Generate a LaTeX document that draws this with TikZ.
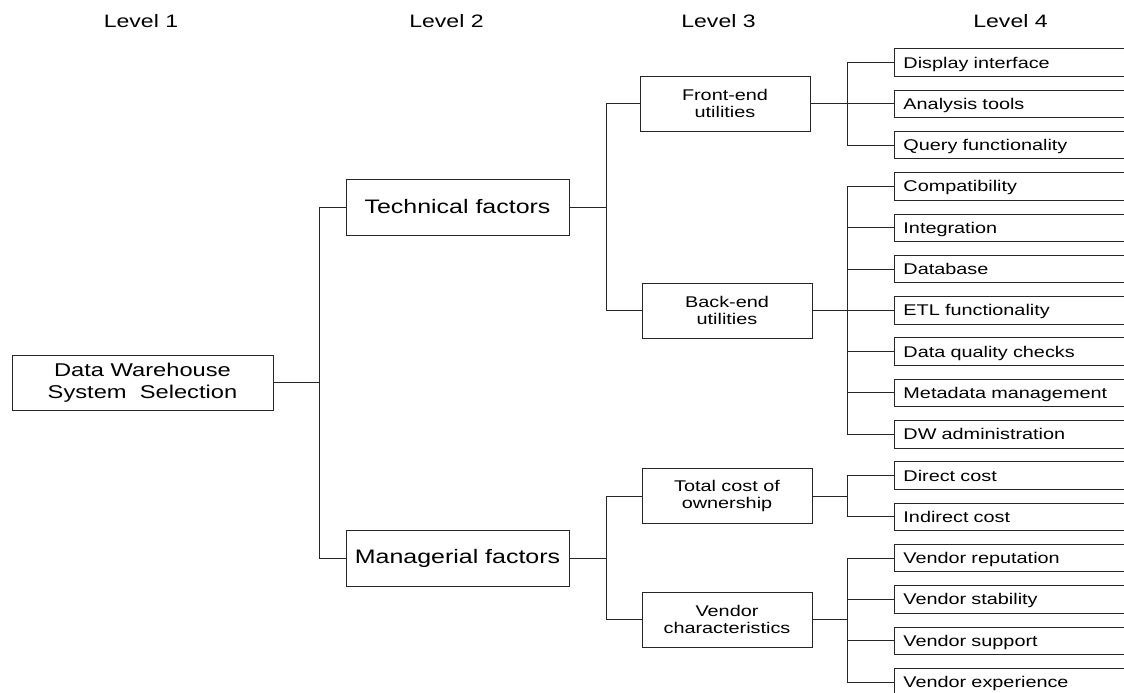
\documentclass[tikz,border=0pt]{standalone}
\usepackage{fontspec}
\setmainfont{Liberation Sans}[FakeStretch=1.28]
\begin{document}
\begin{tikzpicture}[x=1pt,y=-1pt,line width=0.9pt,
  box/.style={draw=black!85,align=center,inner sep=0pt},
  l2/.style={box,minimum width=223pt,minimum height=56pt,font=\fontsize{19.5}{22}\selectfont},
  l3/.style={box,minimum width=170pt,minimum height=55pt,font=\fontsize{15.5}{17.5}\selectfont},
  leaf/.style={draw=black!85,anchor=west,minimum height=27.5pt,text width=222pt,inner xsep=9pt,inner ysep=0pt,
    align=left,font=\fontsize{15.5}{17.5}\selectfont,text height=12.5pt,text depth=1.4pt},
  head/.style={anchor=base,font=\fontsize{18}{20}\selectfont}]
  \useasboundingbox (0,0) rectangle (1124,693);
  \clip (0,0) rectangle (1124,693);
  % level headers
  \node[head] (h1) at (141,27.3) {Level 1};
  \node[head] (h2) at (446.5,27.3) {Level 2};
  \node[head] (h3) at (718.5,27.3) {Level 3};
  \node[head] (h4) at (1010.5,27.3) {Level 4};
  % level 1 and 2
  \node[box,minimum width=261pt,minimum height=55pt,font=\fontsize{18.5}{21.7}\selectfont] (dws) at (142.5,382.5) {Data Warehouse\\System\ \ Selection};
  \node[l2] (tech) at (457.5,207) {Technical factors};
  \node[l2] (mgr) at (457.5,558) {Managerial factors};
  % level 3
  \node[l3] (front) at (725,103.5) {Front-end\\utilities};
  \node[l3] (back) at (727,310.5) {Back-end\\utilities};
  \node[l3] (tco) at (727,496) {Total cost of\\ownership};
  \node[l3] (vend) at (727,619.5) {Vendor\\characteristics};
  % level 4
  \foreach \txt [count=\k from 0] in {Display interface,Analysis tools,Query functionality,Compatibility,
    Integration,Database,ETL functionality,Data quality checks,Metadata management,DW administration,
    Direct cost,Indirect cost,Vendor reputation,Vendor stability,Vendor support,Vendor experience}
    \node[leaf] (l\k) at (894,{62.5+41.3*\k}) {\txt};
  % junctions
  \coordinate (j1) at (319,382.5);
  \coordinate (j2) at (606.5,207);
  \coordinate (j3) at (606.5,558);
  \coordinate (j4) at (847,103.5);
  \coordinate (j5) at (847,310.5);
  \coordinate (j6) at (847,496);
  \coordinate (j7) at (847,619.5);
  \begin{scope}[draw=black!85]
    \draw (dws) -- (j1);
    \draw (tech.west) -| (j1);
    \draw (mgr.west) -| (j1);
    \draw (tech) -- (j2);
    \draw (front.west) -| (j2);
    \draw (back.west) -| (j2);
    \draw (mgr) -- (j3);
    \draw (tco.west) -| (j3);
    \draw (vend.west) -| (j3);
    \draw (front) -- (j4);
    \foreach \k in {0,1,2} \draw (l\k.west) -| (j4);
    \draw (back) -- (j5);
    \foreach \k in {3,...,9} \draw (l\k.west) -| (j5);
    \draw (tco) -- (j6);
    \foreach \k in {10,11} \draw (l\k.west) -| (j6);
    \draw (vend) -- (j7);
    \foreach \k in {12,...,15} \draw (l\k.west) -| (j7);
  \end{scope}
\end{tikzpicture}
\end{document}
